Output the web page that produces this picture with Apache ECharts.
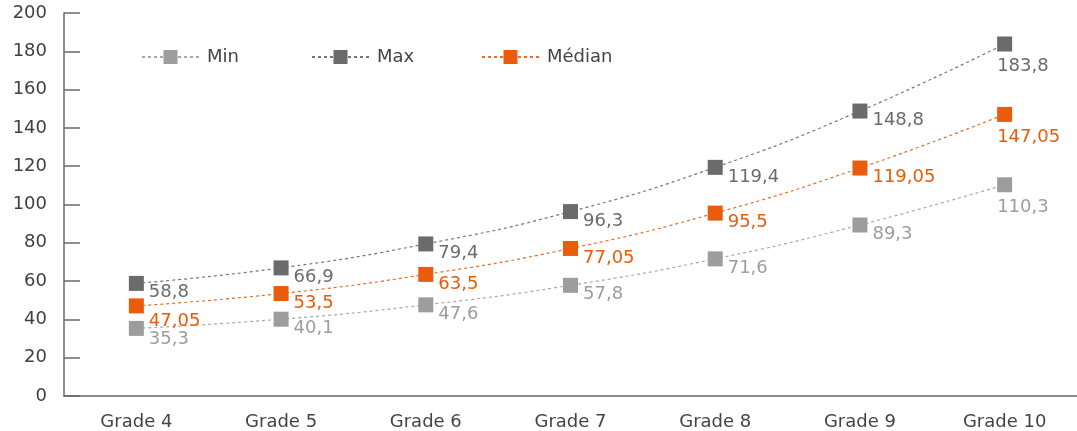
<!DOCTYPE html>
<html>
<head>
<meta charset="utf-8">
<script src="https://cdn.jsdelivr.net/npm/echarts@6/dist/echarts.min.js"></script>
<style>
html,body{margin:0;padding:0;background:#fff;}
#chart{width:1077px;height:431px;}
</style>
</head>
<body>
<div id="chart"></div>
<script>
var categories = ['Grade 4','Grade 5','Grade 6','Grade 7','Grade 8','Grade 9','Grade 10'];
var minValues = [35.3, 40.1, 47.6, 57.8, 71.6, 89.3, 110.3];
var maxValues = [58.8, 66.9, 79.4, 96.3, 119.4, 148.8, 183.8];
var medianValues = [47.05, 53.5, 63.5, 77.05, 95.5, 119.05, 147.05];
var seriesNames = ['Min', 'Max', 'Médian'];

var FONT = 'DejaVu Sans';
function fmt(v){ return String(v).replace('.', ','); }

function buildData(values, firstOffset){
  return values.map(function(v, i){
    var item = { value: v };
    if (i === values.length - 1) {
      item.label = { position: [0, 30] };
    } else if (i === 0) {
      item.label = { position: [20, firstOffset] };
    }
    return item;
  });
}

function makeSeries(name, values, markerColor, lineColor, labelColor, firstOffset, z){
  return {
    name: name,
    type: 'line',
    data: buildData(values, firstOffset),
    smooth: true,
    symbol: 'rect',
    symbolSize: 15,
    z: z,
    itemStyle: { color: markerColor },
    lineStyle: { color: lineColor, width: 1.2, type: [3, 3] },
    label: {
      show: true,
      position: [20, 17],
      align: 'left',
      verticalAlign: 'middle',
      color: labelColor,
      fontFamily: FONT,
      fontSize: 18,
      formatter: function(p){ return fmt(p.value); }
    },
    labelLayout: { hideOverlap: false, moveOverlap: null },
    emphasis: { disabled: true },
    animation: false
  };
}

function makeLegend(name, left){
  return {
    data: [name],
    left: left,
    top: 43,
    itemWidth: 57,
    itemHeight: 17.5,
    textStyle: { color: '#444', fontFamily: FONT, fontSize: 18, padding: [0, 0, 0, 3] },
    selectedMode: false
  };
}

var chart = echarts.init(document.getElementById('chart'));
chart.setOption({
  animation: false,
  legend: [makeLegend(seriesNames[0], 136), makeLegend(seriesNames[1], 306), makeLegend(seriesNames[2], 476)],
  grid: { left: 64, top: 13, bottom: 35, right: -4, containLabel: false },
  xAxis: {
    type: 'category',
    data: categories,
    boundaryGap: true,
    axisLine: { lineStyle: { color: '#6a6a6a', width: 1.5 } },
    axisTick: { inside: true, length: 9, lineStyle: { color: '#6a6a6a', width: 1.5 } },
    axisLabel: { color: '#444', fontFamily: FONT, fontSize: 18, margin: 17 },
    splitLine: { show: false }
  },
  yAxis: {
    type: 'value',
    min: 0, max: 200, interval: 20,
    axisLine: { show: true, lineStyle: { color: '#6a6a6a', width: 1.5 } },
    axisTick: { show: true, inside: true, length: 16, lineStyle: { color: '#6a6a6a', width: 1.5 } },
    axisLabel: { color: '#404040', fontFamily: FONT, fontSize: 18, margin: 17 },
    splitLine: { show: false }
  },
  series: [
    makeSeries(seriesNames[0], minValues, '#9d9d9d', '#a8a8a8', '#9d9d9d', 18, 3),
    makeSeries(seriesNames[1], maxValues, '#6b6b6b', '#777777', '#6b6b6b', 16, 3),
    makeSeries(seriesNames[2], medianValues, '#ea5b0c', '#ee6a1f', '#ea5b0c', 23, 4)
  ]
});
</script>
</body>
</html>
